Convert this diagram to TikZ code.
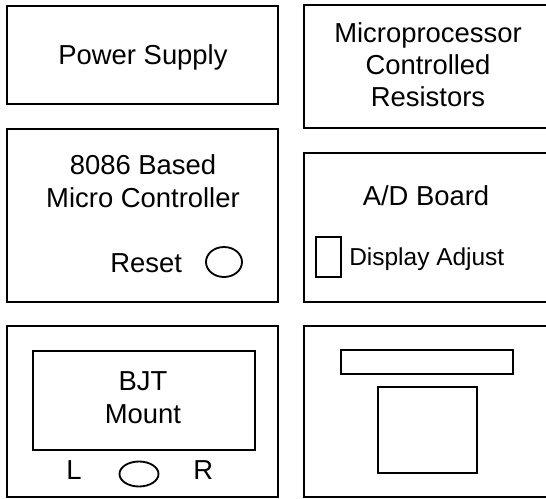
\documentclass[tikz,border=0pt]{standalone}
\usepackage{fontspec}
\setmainfont{Liberation Sans}
\usetikzlibrary{positioning}

\tikzset{
  panel/.style={line width=1.3pt},
  lbl/.style={font=\fontsize{19.5}{22.8}\selectfont, align=center, inner sep=0pt, anchor=base},
}

\begin{document}
\begin{tikzpicture}[x=0.025cm, y=-0.025cm]

            % 画面范围
            \useasboundingbox (0,0) rectangle (546,499);
            \clip (0,0) rectangle (546,499);

            % 电源
            \draw[panel] (7,6) rectangle (278,104);
            \node[lbl] (power) at (143,65) {Power Supply};

            % 8086 控制器 (base = 末行基线)
            \draw[panel] (7,129) rectangle (278,302);
            \node[lbl] (mcu) at (143,207) {8086 Based\\Micro Controller};
            \node[lbl, anchor=base west] (reset) at (110,272) {Reset};
            \draw[panel] (224,262) ellipse (18 and 15);

            % 电阻板
            \draw[panel] (304,5) rectangle (560,128);
            \node[lbl] (resistors) at (428,107) {Microprocessor\\Controlled\\Resistors};

            % A/D 板
            \draw[panel] (304,153) rectangle (560,302);
            \node[lbl] (adboard) at (426,205) {A/D Board};
            \draw[panel] (316,237) rectangle (341,277);
            \node[lbl, font=\fontsize{17.4}{20}\selectfont, anchor=base west]
            (display) at (349,265) {Display Adjust};

            % BJT 座
            \draw[panel] (7,326) rectangle (278,497);
            \draw[panel] (33,351) rectangle (255,450);
            \node[lbl] (bjt) at (143,423) {BJT\\Mount};
            \node[lbl, anchor=base west] (left) at (66,479) {L};
            \draw[panel] (139,474) ellipse (19.5 and 12.5);
            \node[lbl, anchor=base west] (right) at (193,479) {R};

            % 显示器
            \draw[panel] (304,326) rectangle (560,497);
            \draw[panel] (341,350) rectangle (513,374);
            \draw[panel] (378,387) rectangle (477,473);

        \end{tikzpicture}
\end{document}
